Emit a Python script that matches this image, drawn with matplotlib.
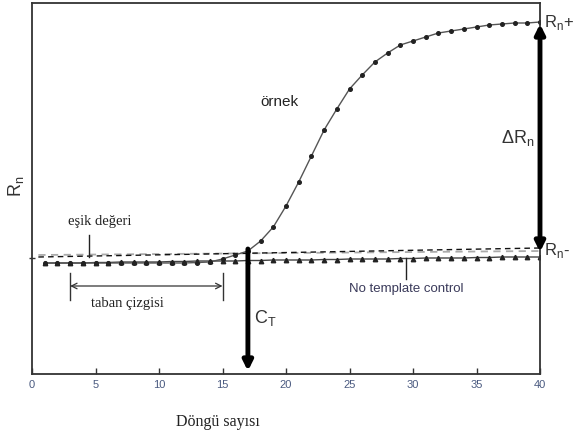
import matplotlib
matplotlib.use("Agg")
import matplotlib.pyplot as plt

plt.rcParams['mathtext.fontset'] = 'custom'
plt.rcParams['mathtext.rm'] = 'Liberation Sans'

## Data (Rn, arbitrary units)
cycles = list(range(1, 41))
sample = [111, 111, 111, 111, 111, 111, 111, 111, 111, 111,
          111, 111, 111.5, 112, 115, 119, 123, 133, 147, 168,
          192, 218, 244, 265, 285, 299, 312, 321, 329, 333,
          337, 341, 343, 345, 347, 349, 350, 351, 351, 352]
ntc = [111, 111, 111, 111, 111.5, 111.5, 112, 112, 112, 112,
       112.5, 112.5, 113, 113, 113, 113, 113.5, 113.5, 114, 114,
       114, 114, 114.5, 114.5, 115, 115, 115, 115, 115.5, 115.5,
       116, 116, 116, 116, 116.5, 116.5, 117, 117, 117, 117]
thr_x = [0.5, 40]
thr_black = [117, 126]
thr_gray = [119, 123]
ct = 17
rn_plus = 350
rn_minus = 122
base_start, base_end = 3, 15
xticks = [0, 5, 10, 15, 20, 25, 30, 35, 40]

fig = plt.figure(figsize=(5.75, 4.41), dpi=100)
ax = fig.add_axes([32/575, 67/441, 508/575, 371/441])

ax.plot(thr_x, thr_gray, color='#aaaaaa', lw=1.3, ls=(0, (4, 3)))
ax.plot(thr_x, thr_black, color='#111111', lw=1.0, ls=(0, (4, 3)))
ax.plot(cycles, ntc, color='#444444', lw=1.0, marker='^', ms=3.2, mfc='#222222', mec='#222222')
ax.plot(cycles, sample, color='#555555', lw=1.0, marker='o', ms=2.6, mfc='#222222', mec='#222222')

# Ct arrow
ax.annotate('', xy=(ct, 3), xytext=(ct, 125),
            arrowprops=dict(arrowstyle='-|>', lw=3.5, color='black', mutation_scale=14, shrinkA=0, shrinkB=0))
ax.text(ct + 0.5, 56, r'C$_{\mathrm{T}}$', fontsize=13, family='Liberation Sans', color='#333333', va='center')

# delta Rn arrow
ax.annotate('', xy=(40, rn_plus), xytext=(40, rn_minus),
            arrowprops=dict(arrowstyle='<|-|>', lw=3.5, color='black', mutation_scale=14, shrinkA=0, shrinkB=0))
ax.text(39.6, 236, r'$\Delta$R$_{\mathrm{n}}$', fontsize=13, family='Liberation Sans', color='#333333',
        ha='right', va='center')
ax.text(40.3, 352, r'R$_{\mathrm{n}}$+', fontsize=12, family='Liberation Sans', color='#333333',
        va='center', clip_on=False)
ax.text(40.3, 124, r'R$_{\mathrm{n}}$-', fontsize=12, family='Liberation Sans', color='#333333',
        va='center', clip_on=False)

# labels inside
ax.text(17.95, 272, 'örnek', fontsize=11, family='Liberation Sans', color='#222222', va='center')
ax.text(5.35, 152, 'eşik değeri', fontsize=10.5, family='Liberation Serif', color='#222222',
        ha='center', va='center')
ax.plot([4.5, 4.5], [139, 117], color='#222222', lw=1.0)

ax.plot([base_start, base_start], [101, 74], color='#333333', lw=1.0)
ax.plot([base_end, base_end], [101, 74], color='#333333', lw=1.0)
ax.annotate('', xy=(base_start, 88), xytext=(base_end, 88),
            arrowprops=dict(arrowstyle='<->', lw=0.9, color='#333333', shrinkA=0, shrinkB=0))
ax.text(7.5, 71, 'taban çizgisi', fontsize=10.5, family='Liberation Serif', color='#222222',
        ha='center', va='center')

ax.plot([29.45, 29.45], [116, 95], color='#222222', lw=1.0)
ax.text(29.45, 85, 'No template control', fontsize=9.5, family='Liberation Sans', color='#3a3a5a',
        ha='center', va='center')

ax.set_xlim(0, 40)
ax.set_ylim(0, 371)
ax.set_xticks(xticks)
ax.set_xticklabels([str(t) for t in xticks], fontsize=8, family='Liberation Sans', color='#4a5a80')
ax.tick_params(axis='x', direction='in', length=4, width=1, color='#333333', pad=4)
ax.set_yticks([116])
ax.set_yticklabels([''])
ax.tick_params(axis='y', direction='inout', length=5, width=1, color='#333333')
for s in ax.spines.values():
    s.set_color('#333333')
    s.set_linewidth(1.3)

fig.text(16/575, 1 - 186/441, r'R$_{\mathrm{n}}$', fontsize=13, family='Liberation Sans', color='#333333',
         rotation=90, ha='center', va='center')
fig.text(218/575, 1 - 422/441, 'Döngü sayısı', fontsize=11.5, family='Liberation Serif', color='#222222',
         ha='center', va='center')

fig.savefig('out.png', dpi=100)
